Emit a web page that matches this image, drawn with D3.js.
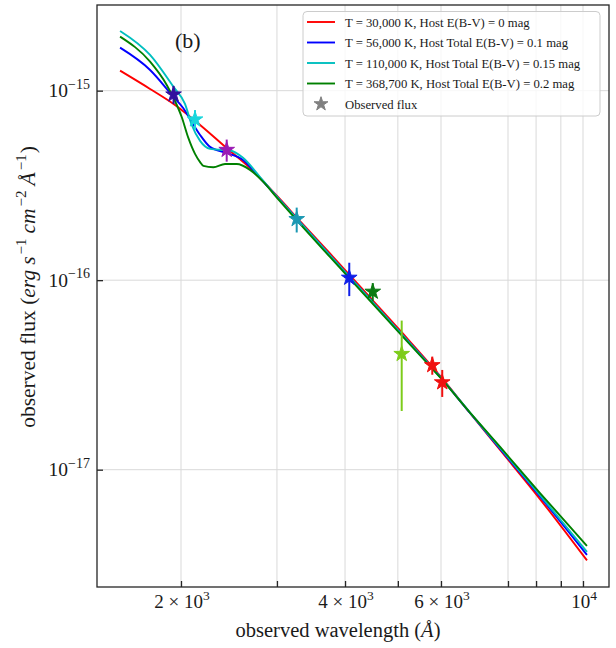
<!DOCTYPE html>
<html><head><meta charset="utf-8">
<script src="https://cdn.jsdelivr.net/npm/d3@7"></script>
<style>
html,body{margin:0;padding:0;background:#fff;}
svg{display:block;font-family:"Liberation Serif","Times New Roman",serif;}
</style></head>
<body><svg id="chart" width="616" height="648"></svg>
<script>
// Model SEDs: observed wavelength (Å) and flux density (erg s^-1 cm^-2 Å^-1)
const seriesLabels = [
  "T = 30,000 K, Host E(B-V) = 0 mag",
  "T = 56,000 K, Host Total E(B-V) = 0.1 mag",
  "T = 110,000 K, Host Total E(B-V) = 0.15 mag",
  "T = 368,700 K, Host Total E(B-V) = 0.2 mag"
];
const wave30k = [1546,1755,1950,2168,2427,2677,3001,3307,3753,4261,5046,6000,6414,6874,8151,10192];
const flux30k = [1.275e-15,1.021e-15,8.40e-16,6.59e-16,4.97e-16,3.91e-16,2.78e-16,2.05e-16,1.383e-16,9.26e-17,5.43e-17,3.085e-17,1.991e-17,1.271e-17,7.00e-18,3.32e-18];
const wave56k = [1546,1755,1936,2020,2093,2168,2261,2427,2599,2793,3001,3307,3753,4261,5046,6000,6414,6874,8151,10192];
const flux56k = [1.686e-15,1.286e-15,9.30e-16,8.08e-16,6.84e-16,5.84e-16,5.05e-16,4.69e-16,4.31e-16,3.46e-16,2.75e-16,2.02e-16,1.350e-16,9.04e-17,5.30e-17,3.048e-17,1.991e-17,1.286e-17,7.22e-18,3.55e-18];
const wave110k = [1546,1755,1936,2034,2093,2168,2261,2461,2599,2793,3001,3307,3753,4261,5046,6000,6414,6874,8151,10192];
const flux110k = [2.066e-15,1.543e-15,1.050e-15,8.51e-16,6.59e-16,5.43e-16,4.93e-16,4.83e-16,4.42e-16,3.50e-16,2.75e-16,2.02e-16,1.350e-16,9.04e-17,5.30e-17,3.048e-17,2.003e-17,1.302e-17,7.35e-18,3.68e-18];
const wave368k = [1546,1755,1883,1950,2006,2063,2122,2168,2198,2293,2409,2531,2677,2832,3001,3307,3753,4261,5046,6000,6414,6874,8151,10192];
const flux368k = [1.928e-15,1.422e-15,1.072e-15,8.82e-16,7.26e-16,5.63e-16,4.64e-16,4.20e-16,4.01e-16,3.94e-16,4.10e-16,4.10e-16,3.82e-16,3.30e-16,2.72e-16,1.98e-16,1.326e-16,8.88e-17,5.23e-17,3.03e-17,2.003e-17,1.318e-17,7.53e-18,3.96e-18];

// Photometry
const obsWave = [1938,2122,2426,3261,4072,4497,5082,5783,6017];
const obsFlux = [9.55e-16,7.05e-16,4.87e-16,2.10e-16,1.03e-16,8.69e-17,4.08e-17,3.56e-17,2.89e-17];
const obsErr  = [1.05e-16,8.5e-17,6.5e-17,3.15e-17,2.06e-17,9.6e-18,2.04e-17,3.9e-18,4.7e-18];

// Axis ticks
const xTickValues = [2000,3000,4000,5000,6000,7000,8000,9000,10000];
const xTickLabels = [[2000,"2 × 10","3"],[4000,"4 × 10","3"],[6000,"6 × 10","3"],[10000,"10","4"]];
const yTickValues = [1e-17,1e-16,1e-15];
const yTickLabels = [[1e-17,"10","−17"],[1e-16,"10","−16"],[1e-15,"10","−15"]];

// Styles
const lineColors = ["#ff0000","#0000ff","#00bfbf","#008000"];
const obsColors = ["#33119e","#1ad6dc","#9a1ab4","#1b98b3","#0f1fe8","#0b7a12","#7dcc1a","#f01010","#f01010"];

const W = 616, H = 648;
const m = {top:5, right:7, bottom:61, left:97};
const iw = W - m.left - m.right, ih = H - m.top - m.bottom;

// Wavelength axis: piecewise log mapping through anchor wavelengths
const xAnchors = [2000,6000,7000,10000];
const xAnchorPos = [84,344,411,486];
const xLog = d3.scaleLinear().domain(xAnchors.map(Math.log10)).range(xAnchorPos);
const x = w => xLog(Math.log10(w));
const y = d3.scaleLog().domain([Math.pow(10,-17.619), Math.pow(10,-14.548)]).range([ih,0]);

const svg = d3.select("#chart");
const g = svg.append("g").attr("transform",`translate(${m.left},${m.top})`);

svg.append("defs").append("clipPath").attr("id","plotclip")
  .append("rect").attr("width",iw).attr("height",ih);

// grid
const grid = g.append("g").attr("stroke","#d9d9d9").attr("stroke-width",1);
grid.selectAll("line.v").data(xTickValues).join("line")
  .attr("x1",d=>x(d)).attr("x2",d=>x(d)).attr("y1",0).attr("y2",ih);
grid.selectAll("line.h").data(yTickValues).join("line").attr("class","h")
  .attr("x1",0).attr("x2",iw).attr("y1",d=>y(d)).attr("y2",d=>y(d));

// model curves
const series = [
  d3.zip(wave30k, flux30k), d3.zip(wave56k, flux56k),
  d3.zip(wave110k, flux110k), d3.zip(wave368k, flux368k)
];
const line = d3.line().x(d=>x(d[0])).y(d=>y(d[1])).curve(d3.curveMonotoneX);
const curves = g.append("g").attr("clip-path","url(#plotclip)");
curves.selectAll("path").data(series).join("path")
  .attr("d",line).attr("fill","none")
  .attr("stroke",(d,i)=>lineColors[i]).attr("stroke-width",1.9);

// observed fluxes with error bars
const obs = d3.range(obsWave.length).map(i=>({w:obsWave[i],f:obsFlux[i],e:obsErr[i],c:obsColors[i]}));
const og = g.append("g");
og.selectAll("line").data(obs).join("line")
  .attr("x1",d=>x(d.w)).attr("x2",d=>x(d.w))
  .attr("y1",d=>y(d.f-d.e)).attr("y2",d=>y(d.f+d.e))
  .attr("stroke",d=>d.c).attr("stroke-width",2);
const star = d3.symbol(d3.symbolStar, 76);
og.selectAll("path").data(obs).join("path")
  .attr("d",star)
  .attr("transform",d=>`translate(${x(d.w)},${y(d.f)})`)
  .attr("fill",d=>d.c).attr("stroke",d=>d.c).attr("stroke-width",1);

// axes (ticks pointing inward)
const xAxis = d3.axisBottom(xLog).tickValues(xTickValues.map(Math.log10))
  .tickSizeInner(-6).tickSizeOuter(0).tickFormat("");
const yAxis = d3.axisLeft(y).tickValues(yTickValues)
  .tickSizeInner(-6).tickSizeOuter(0).tickFormat("");
const gx = g.append("g").attr("transform",`translate(0,${ih})`).call(xAxis);
const gy = g.append("g").call(yAxis);
[gx,gy].forEach(a=>{
  a.select(".domain").remove();
  a.selectAll(".tick line").attr("stroke","#262626").attr("stroke-width",1.3);
});

// frame
g.append("rect").attr("width",iw).attr("height",ih)
  .attr("fill","none").attr("stroke","#262626").attr("stroke-width",1.3);

// tick labels
const xl = g.append("g").attr("font-size",19).attr("fill","#1a1a1a").attr("text-anchor","middle");
xTickLabels.forEach(([v,base,sup])=>{
  const t = xl.append("text").attr("x",x(v)+1).attr("y",ih+21);
  t.append("tspan").text(base);
  t.append("tspan").attr("dy",-8).attr("font-size",13.5).text(sup);
});
const yl = g.append("g").attr("font-size",19.5).attr("fill","#1a1a1a").attr("text-anchor","end");
yTickLabels.forEach(([v,base,sup])=>{
  const t = yl.append("text").attr("x",-7).attr("y",y(v)+6.5);
  t.append("tspan").text(base);
  t.append("tspan").attr("dy",-8.5).attr("font-size",14).text(sup);
});

// axis titles
const xt = svg.append("text").attr("x",338).attr("y",637).attr("text-anchor","middle")
  .attr("font-size",20.5).attr("fill","#1a1a1a");
xt.append("tspan").text("observed wavelength (");
xt.append("tspan").attr("font-style","italic").text("Å");
xt.append("tspan").text(")");

const yt = svg.append("text").attr("transform","translate(35,287) rotate(-90)")
  .attr("text-anchor","middle").attr("font-size",21.5).attr("fill","#1a1a1a");
yt.append("tspan").text("observed flux (");
yt.append("tspan").attr("font-style","italic").text("erg");
yt.append("tspan").attr("dx",5).attr("font-style","italic").text("s");
yt.append("tspan").attr("dx",2).attr("dy",-9).attr("font-size",15).text("−1");
yt.append("tspan").attr("dx",5).attr("dy",9).attr("font-style","italic").text("cm");
yt.append("tspan").attr("dx",2).attr("dy",-9).attr("font-size",15).text("−2");
yt.append("tspan").attr("dx",5).attr("dy",9).attr("font-style","italic").text("Å");
yt.append("tspan").attr("dx",2).attr("dy",-9).attr("font-size",15).text("−1");
yt.append("tspan").attr("dx",1).attr("dy",9).text(")");

// panel tag
svg.append("text").attr("x",175).attr("y",48).attr("font-size",22).attr("fill","#1a1a1a").text("(b)");

// legend
const lg = svg.append("g");
lg.append("rect").attr("x",303).attr("y",11.5).attr("width",297).attr("height",104.5)
  .attr("rx",4).attr("fill","#fff").attr("fill-opacity",0.8)
  .attr("stroke","#cccccc").attr("stroke-width",1);
const rowY = i => 22 + i*20.5;
seriesLabels.forEach((lab,i)=>{
  lg.append("line").attr("x1",307).attr("x2",335).attr("y1",rowY(i)).attr("y2",rowY(i))
    .attr("stroke",lineColors[i]).attr("stroke-width",1.9);
  lg.append("text").attr("x",345).attr("y",rowY(i)+4.5).attr("font-size",12.7)
    .attr("fill","#1a1a1a").text(lab);
});
lg.append("path").attr("d",d3.symbol(d3.symbolStar,60))
  .attr("transform",`translate(321,${rowY(4)})`).attr("fill","#808080").attr("stroke","#808080");
lg.append("text").attr("x",345).attr("y",rowY(4)+4.5).attr("font-size",12.7)
  .attr("fill","#1a1a1a").text("Observed flux");
</script></body></html>
